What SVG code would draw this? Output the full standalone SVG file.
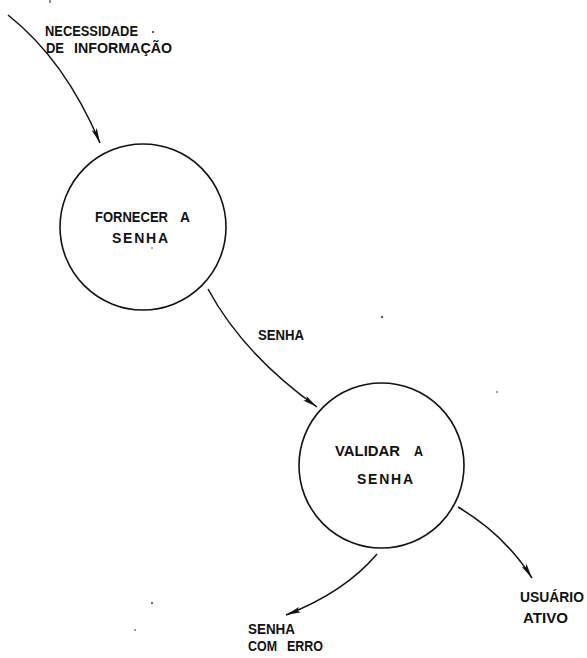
<svg xmlns="http://www.w3.org/2000/svg" width="587" height="658" viewBox="0 0 587 658">
  <style>
    .bubble { fill: none; stroke: #111; stroke-width: 1.6; }
    .flow { fill: none; stroke: #111; stroke-width: 1.5; marker-end: url(#arrow); }
    .lbl { font-family: "Liberation Sans", Arial, sans-serif; font-size: 14.5px; font-weight: bold; fill: #111; }
    .sm { font-size: 14px; }
    .speck { fill: #222; }
  </style>
  <defs>
    <marker id="arrow" markerUnits="userSpaceOnUse" markerWidth="16" markerHeight="8" refX="15" refY="4" orient="auto">
      <path d="M0,1.2 L15,4 L0,6.8 L3,4 Z" fill="#111"/>
    </marker>
  </defs>

  <rect width="587" height="658" fill="#fff"/>

  <!-- data flows -->
  <g id="connectors">
    <path class="flow" d="M8,15 Q65,60 100,143"/>
    <path class="flow" d="M208,289 Q243,354 317,407"/>
    <path class="flow" d="M377,554 Q345,592 286,615"/>
    <path class="flow" d="M458,507 Q505,535 532,578"/>
  </g>

  <!-- processes -->
  <g id="fornecer-senha">
    <circle class="bubble" cx="143" cy="227" r="83"/>
    <text class="lbl" x="95" y="222" textLength="73" lengthAdjust="spacingAndGlyphs">FORNECER</text>
    <text class="lbl" x="180" y="222" textLength="10" lengthAdjust="spacingAndGlyphs">A</text>
    <text class="lbl sm" x="112" y="243" textLength="56" lengthAdjust="spacing">SENHA</text>
  </g>

  <g id="validar-senha">
    <circle class="bubble" cx="381.5" cy="465.5" r="82.5"/>
    <text class="lbl" x="335" y="456" textLength="65" lengthAdjust="spacingAndGlyphs">VALIDAR</text>
    <text class="lbl" x="414" y="456" textLength="9" lengthAdjust="spacingAndGlyphs">A</text>
    <text class="lbl sm" x="357" y="484" textLength="56" lengthAdjust="spacing">SENHA</text>
  </g>

  <!-- flow labels -->
  <g id="label-necessidade">
    <text class="lbl sm" x="45" y="36" textLength="93" lengthAdjust="spacingAndGlyphs">NECESSIDADE</text>
    <circle class="speck" cx="153" cy="32" r="1"/>
    <text class="lbl sm" x="46" y="53" textLength="18" lengthAdjust="spacingAndGlyphs">DE</text>
    <text class="lbl sm" x="74" y="53" textLength="98" lengthAdjust="spacingAndGlyphs">INFORMAÇÃO</text>
  </g>

  <g id="label-senha">
    <text class="lbl" x="258" y="340" textLength="46" lengthAdjust="spacingAndGlyphs">SENHA</text>
  </g>

  <g id="label-senha-com-erro">
    <text class="lbl sm" x="248" y="634" textLength="47" lengthAdjust="spacingAndGlyphs">SENHA</text>
    <text class="lbl sm" x="248" y="651" textLength="29" lengthAdjust="spacingAndGlyphs">COM</text>
    <text class="lbl sm" x="287" y="651" textLength="36" lengthAdjust="spacingAndGlyphs">ERRO</text>
  </g>

  <g id="label-usuario-ativo">
    <text class="lbl sm" x="520" y="602" textLength="64" lengthAdjust="spacingAndGlyphs">USUÁRIO</text>
    <text class="lbl sm" x="523" y="623" textLength="45" lengthAdjust="spacingAndGlyphs">ATIVO</text>
  </g>

  <!-- small marks on the sheet -->
  <g id="specks">
    <rect class="speck" x="49.5" y="0" width="1" height="3"/>
    <circle class="speck" cx="152" cy="248" r="0.7"/>
    <circle class="speck" cx="382" cy="317" r="1"/>
    <circle class="speck" cx="497" cy="392" r="0.8"/>
    <circle class="speck" cx="152" cy="603" r="0.9"/>
    <circle class="speck" cx="135" cy="630" r="0.8"/>
  </g>
</svg>
